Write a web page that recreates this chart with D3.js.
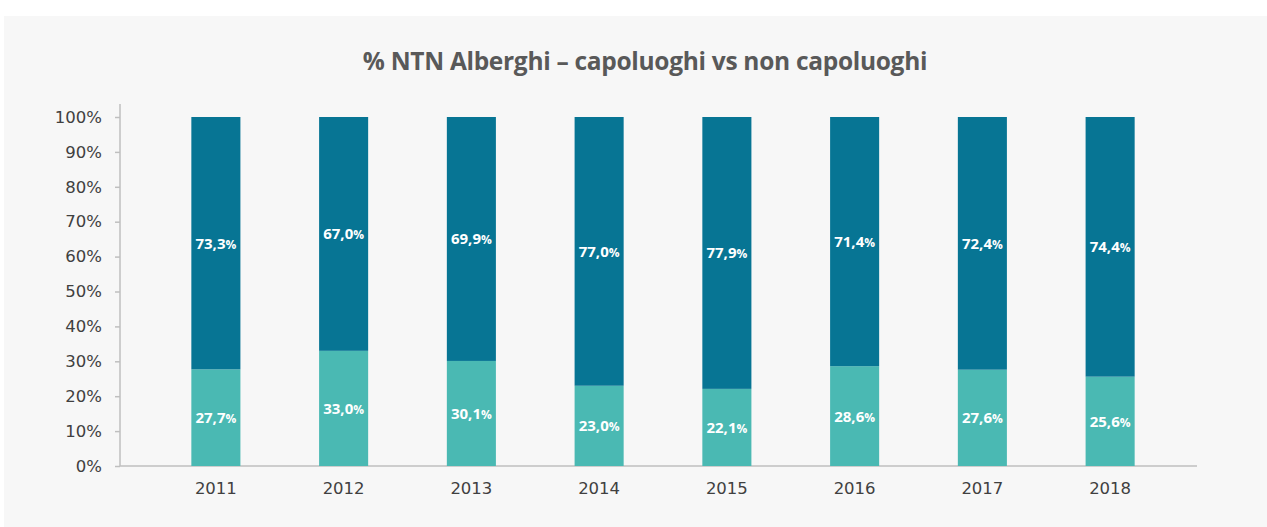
<!DOCTYPE html>
<html>
<head>
<meta charset="utf-8">
<script src="https://cdn.jsdelivr.net/npm/d3@7"></script>
<style>
  body { margin: 0; background: #ffffff; }
  svg { display: block; }
</style>
</head>
<body>
<div id="chart"></div>
<script>
// dati
const years = ["2011", "2012", "2013", "2014", "2015", "2016", "2017", "2018"];
const nonCapoluoghi = [27.7, 33.0, 30.1, 23.0, 22.1, 28.6, 27.6, 25.6];
const capoluoghi = [73.3, 67.0, 69.9, 77.0, 77.9, 71.4, 72.4, 74.4];
const yTicks = [0, 10, 20, 30, 40, 50, 60, 70, 80, 90, 100];

const width = 1267, height = 527;
const colors = { light: "#4ab9b3", dark: "#077594" };

const svg = d3.select("#chart").append("svg")
    .attr("width", width)
    .attr("height", height);

// pannello grigio
svg.append("rect")
    .attr("x", 4).attr("y", 16)
    .attr("width", width - 4).attr("height", height - 16)
    .attr("fill", "#f7f7f7");

svg.append("text")
    .attr("x", 645).attr("y", 70)
    .attr("text-anchor", "middle")
    .attr("font-family", "Open Sans, sans-serif")
    .attr("font-weight", "bold")
    .attr("font-size", 24.5)
    .attr("letter-spacing", -0.3)
    .attr("fill", "#595959")
    .text("% NTN Alberghi – capoluoghi vs non capoluoghi");

const rows = years.map((y, i) => ({ year: y, light: nonCapoluoghi[i], dark: capoluoghi[i] }));
const series = d3.stack().keys(["light", "dark"])(rows);

const x = d3.scaleBand()
    .domain(years)
    .range([152, 1174])
    .paddingInner(0.616)
    .paddingOuter(0.308);

const y = d3.scaleLinear()
    .domain([0, 100])
    .range([466, 117])
    .clamp(true);

// assi
const yAxis = svg.append("g")
    .attr("transform", "translate(120,0)")
    .call(d3.axisLeft(y).tickValues(yTicks).tickSize(5).tickPadding(13).tickFormat(d => d + "%"));
yAxis.select(".domain").attr("d", "M0,104V466");

const xAxis = svg.append("g")
    .attr("transform", "translate(0,466)")
    .call(d3.axisBottom(x).tickSize(0).tickPadding(16));
xAxis.select(".domain").attr("d", "M120,0H1197");

svg.selectAll(".domain, .tick line")
    .attr("stroke", "#bfbfbf")
    .attr("stroke-width", 1.5);
svg.selectAll(".tick text")
    .attr("font-family", "DejaVu Sans, sans-serif")
    .attr("font-size", 16.5)
    .attr("fill", "#404040");

// barre
const layers = svg.append("g").selectAll("g")
    .data(series)
    .enter().append("g")
    .attr("fill", d => colors[d.key]);

layers.selectAll("rect")
    .data(d => d)
    .enter().append("rect")
    .attr("x", d => x(d.data.year))
    .attr("y", d => y(d[1]))
    .attr("width", x.bandwidth())
    .attr("height", d => y(d[0]) - y(d[1]));

// etichette
const labels = layers.selectAll("text")
    .data(d => d.map(p => ({ p, key: d.key })))
    .enter().append("text")
    .attr("x", d => x(d.p.data.year) + x.bandwidth() / 2)
    .attr("y", d => (y(d.p[0]) + y(d.p[1])) / 2 + 5.5)
    .attr("text-anchor", "middle")
    .attr("font-family", "Open Sans, sans-serif")
    .attr("font-weight", "bold")
    .attr("fill", "#ffffff");

labels.append("tspan")
    .attr("font-size", 15)
    .text(d => d.p.data[d.key].toFixed(1).replace(".", ","));
labels.append("tspan")
    .attr("font-size", 12)
    .text("%");
</script>
</body>
</html>
